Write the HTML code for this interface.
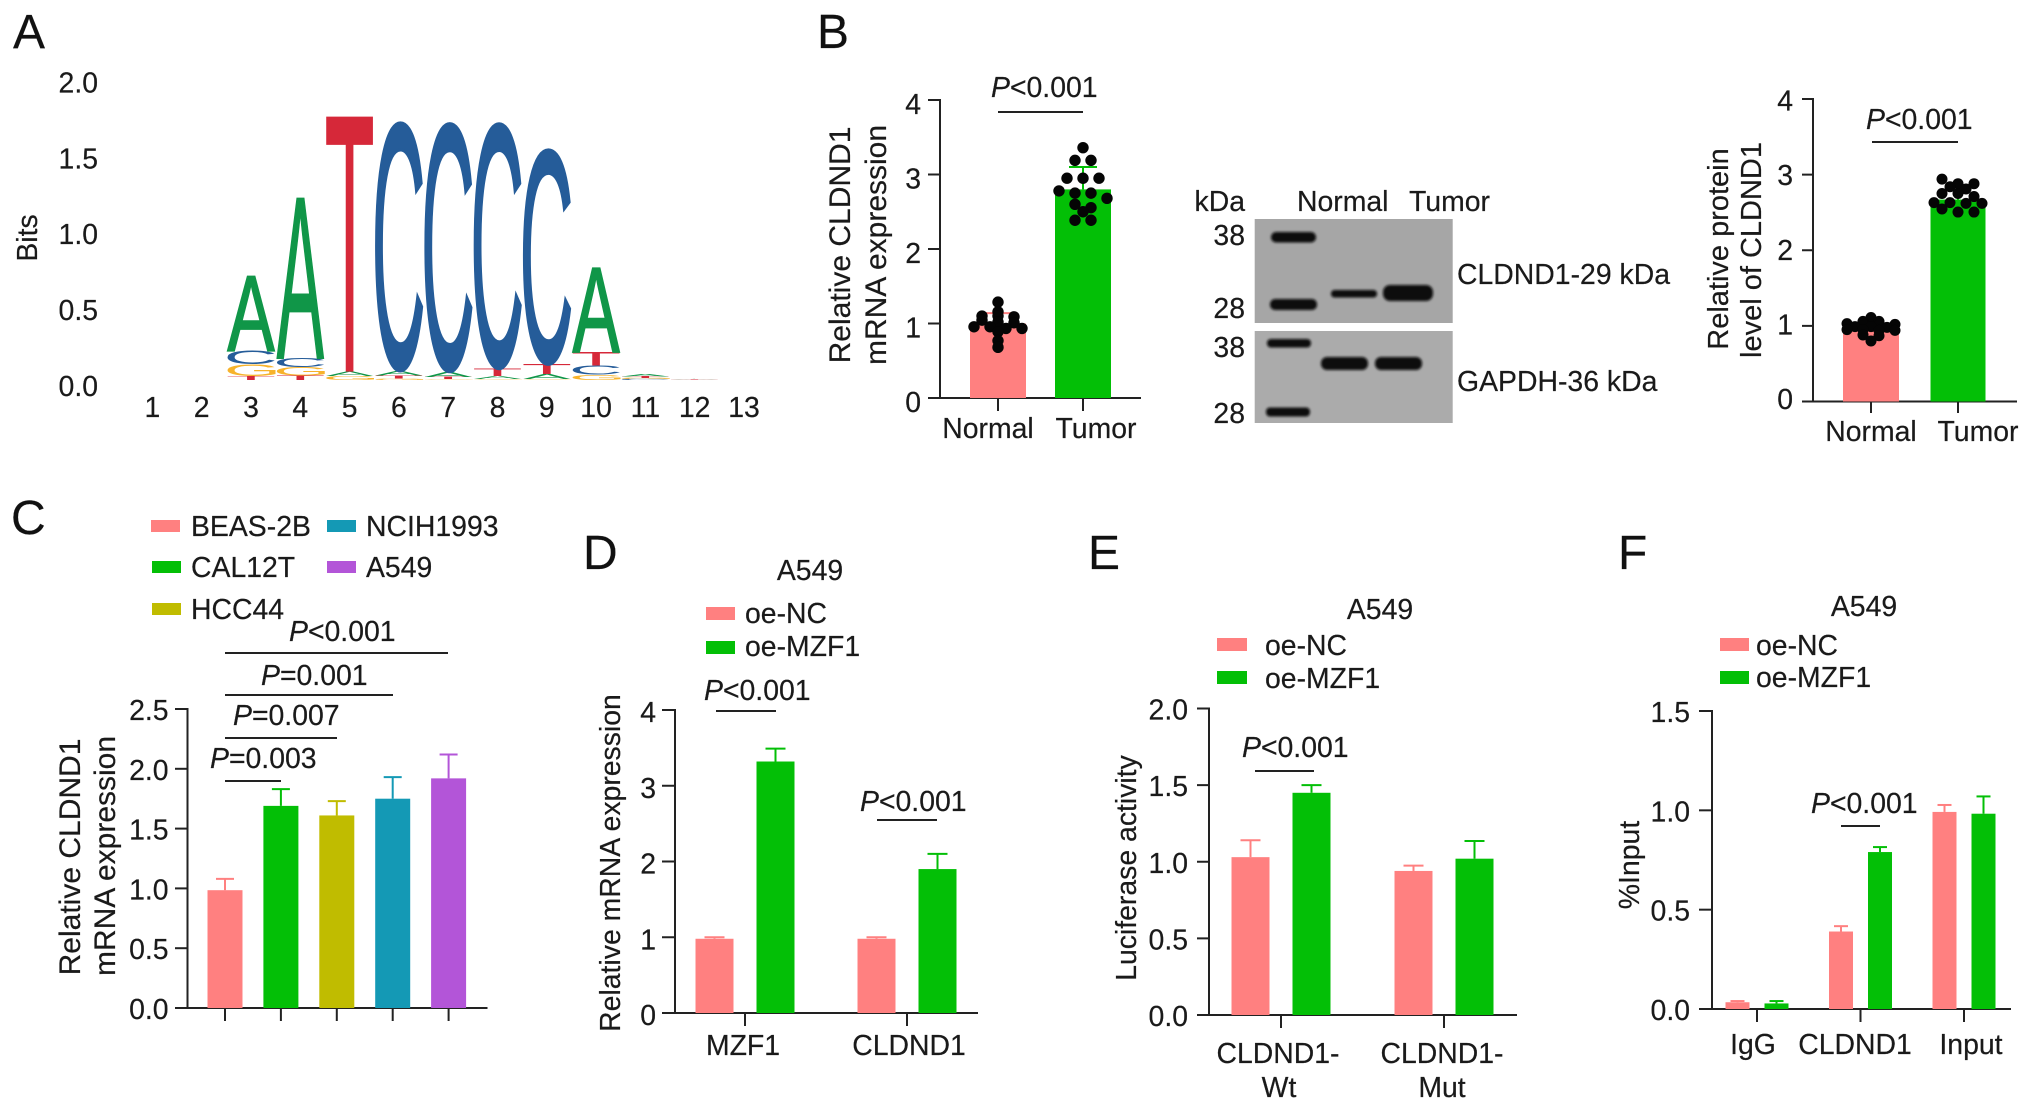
<!DOCTYPE html>
<html lang="en">
<head>
<meta charset="utf-8">
<title>CLDND1 multi-panel figure</title>
<style>
html,body{margin:0;padding:0;background:#fff;width:2032px;height:1111px;overflow:hidden}
svg{display:block;font-family:"Liberation Sans",Arial,sans-serif;fill:#1a1a1a}
text{font-size:28.4px;fill:#1a1a1a;stroke:#1a1a1a;stroke-width:.2px}
.panel{font-size:48px;fill:#111}
.mid{text-anchor:middle}
.end{text-anchor:end}
.t30{font-size:30px}
.t29{font-size:29px}
.i{font-style:italic}
.sig{stroke:#222;stroke-width:2}
.band{fill:#0a0a0a;filter:url(#bandBlur)}
</style>
</head>
<body>
<svg id="figure" xmlns="http://www.w3.org/2000/svg" width="2032" height="1111" viewBox="0 0 2032 1111">
<defs><filter id="bandBlur" x="-20%" y="-60%" width="140%" height="220%"><feGaussianBlur stdDeviation="1.3"/></filter></defs>
<rect width="2032" height="1111" fill="#fff"/>

<text class="panel" x="13" y="48">A</text>
<text class="panel" x="817" y="48">B</text>
<text class="panel" x="11" y="534">C</text>
<text class="panel" x="583" y="569">D</text>
<text class="panel" x="1088" y="569">E</text>
<text class="panel" x="1618" y="569">F</text>

<!-- Panel A -->
<g id="panelA">
<text class="mid" transform="translate(27,238) rotate(-90)" dy="10">Bits</text>
</g>

<!-- Panel B left -->
<g id="panelB1">
<text class="mid t30" transform="translate(839,245) rotate(-90)" dy="11">Relative CLDND1</text>
<text class="mid t30" transform="translate(877,245) rotate(-90)" dy="9">mRNA expression</text>
<text x="991" y="97"><tspan class="i">P</tspan>&lt;0.001</text>
<line class="sig" x1="998" x2="1083" y1="112" y2="112"/>
<text class="mid" x="988" y="438">Normal</text>
<text class="mid" x="1096" y="438">Tumor</text>
</g>

<!-- Western blot -->
<g>
<text class="end" x="1245" y="211">kDa</text>
<text x="1297" y="211">Normal</text>
<text x="1409" y="211">Tumor</text>
<text class="end" x="1245" y="245">38</text>
<text class="end" x="1245" y="318">28</text>
<text class="end" x="1245" y="357">38</text>
<text class="end" x="1245" y="423">28</text>
<rect x="1254.7" y="219" width="198" height="104" fill="#a6a6a6"/>
<rect x="1254.7" y="331" width="198" height="92" fill="#ababab"/>
<rect class="band" x="1271" y="232" width="45" height="10.5" rx="5"/>
<rect class="band" x="1270" y="299" width="47" height="11" rx="5"/>
<rect class="band" x="1331" y="290" width="46" height="7.5" rx="3.5"/>
<rect class="band" x="1383" y="285" width="50" height="16" rx="7"/>
<rect class="band" x="1267" y="339" width="44" height="8.5" rx="4"/>
<rect class="band" x="1321" y="357" width="47" height="13" rx="6"/>
<rect class="band" x="1375" y="357" width="47" height="13" rx="6"/>
<rect class="band" x="1266" y="407.5" width="44" height="9" rx="4"/>
<text x="1457" y="284">CLDND1-29 kDa</text>
<text x="1457" y="391">GAPDH-36 kDa</text>
</g>

<!-- Panel B right -->
<g id="panelB2">
<text class="mid t29" transform="translate(1718,249) rotate(-90)" dy="10">Relative protein</text>
<text class="mid t29" transform="translate(1753,250) rotate(-90)" dy="8">level of CLDND1</text>
<text x="1866" y="129"><tspan class="i">P</tspan>&lt;0.001</text>
<line class="sig" x1="1872" x2="1958" y1="142" y2="142"/>
<text class="mid" x="1871" y="441">Normal</text>
<text class="mid" x="1978" y="441">Tumor</text>
</g>

<!-- Panel C -->
<g id="panelC">
<rect x="151" y="520" width="29" height="12" fill="#ff8080"/>
<text x="191" y="536">BEAS-2B</text>
<rect x="152" y="561" width="29" height="12" fill="#03bf06"/>
<text x="191" y="577">CAL12T</text>
<rect x="152" y="603" width="29" height="12" fill="#c0bc00"/>
<text x="191" y="619">HCC44</text>
<rect x="327" y="520" width="29" height="12" fill="#1499b5"/>
<text x="366" y="536">NCIH1993</text>
<rect x="327" y="561" width="29" height="12" fill="#b355d8"/>
<text x="366" y="577">A549</text>
<text x="289" y="641"><tspan class="i">P</tspan>&lt;0.001</text>
<line class="sig" x1="225" x2="448" y1="653" y2="653"/>
<text x="261" y="685"><tspan class="i">P</tspan>=0.001</text>
<line class="sig" x1="225" x2="393" y1="695" y2="695"/>
<text x="233" y="725"><tspan class="i">P</tspan>=0.007</text>
<line class="sig" x1="225" x2="337" y1="738" y2="738"/>
<text x="210" y="768"><tspan class="i">P</tspan>=0.003</text>
<line class="sig" x1="225" x2="281" y1="781" y2="781"/>
<text class="mid t30" transform="translate(69,857) rotate(-90)" dy="11">Relative CLDND1</text>
<text class="mid t30" transform="translate(106,856) rotate(-90)" dy="9">mRNA expression</text>
</g>

<!-- Panel D -->
<g id="panelD">
<text class="mid" x="810" y="580">A549</text>
<rect x="706" y="607" width="29" height="13" fill="#ff8080"/>
<text x="745" y="623">oe-NC</text>
<rect x="706" y="641" width="29" height="13" fill="#03bf06"/>
<text x="745" y="656">oe-MZF1</text>
<text x="704" y="700"><tspan class="i">P</tspan>&lt;0.001</text>
<line class="sig" x1="716" x2="776" y1="711" y2="711"/>
<text x="860" y="811"><tspan class="i">P</tspan>&lt;0.001</text>
<line class="sig" x1="877" x2="937" y1="820" y2="820"/>
<text class="mid" transform="translate(611,863) rotate(-90)" dy="9">Relative mRNA expression</text>
<text class="mid" x="743" y="1055">MZF1</text>
<text class="mid" x="909" y="1055">CLDND1</text>
</g>

<!-- Panel E -->
<g id="panelE">
<text class="mid" x="1380" y="619">A549</text>
<rect x="1217" y="638" width="30" height="13" fill="#ff8080"/>
<text x="1265" y="655">oe-NC</text>
<rect x="1217" y="671" width="30" height="13" fill="#03bf06"/>
<text x="1265" y="688">oe-MZF1</text>
<text x="1242" y="757"><tspan class="i">P</tspan>&lt;0.001</text>
<line class="sig" x1="1255" x2="1314" y1="771" y2="771"/>
<text class="mid" transform="translate(1127,868) rotate(-90)" dy="9">Luciferase activity</text>
<text class="mid" x="1278" y="1063">CLDND1-</text>
<text class="mid" x="1279" y="1097">Wt</text>
<text class="mid" x="1442" y="1063">CLDND1-</text>
<text class="mid" x="1442" y="1097">Mut</text>
</g>

<!-- Panel F -->
<g id="panelF">
<text class="mid" x="1864" y="616">A549</text>
<rect x="1720" y="638" width="29" height="13" fill="#ff8080"/>
<text x="1756" y="655">oe-NC</text>
<rect x="1720" y="671" width="29" height="13" fill="#03bf06"/>
<text x="1756" y="687">oe-MZF1</text>
<text x="1811" y="813"><tspan class="i">P</tspan>&lt;0.001</text>
<line class="sig" x1="1841" x2="1880" y1="826" y2="826"/>
<text class="mid" transform="translate(1629,865) rotate(-90)" dy="10">%Input</text>
<text class="mid" x="1753" y="1054">IgG</text>
<text class="mid" x="1855" y="1054">CLDND1</text>
<text class="mid" x="1971" y="1054">Input</text>
</g>
</svg>

<script>
/* ---------- Panel A data: information content (bits) per position ---------- */
const logoPositions = [1,2,3,4,5,6,7,8,9,10,11,12,13];
const logoTicks = ['0.0','0.5','1.0','1.5','2.0'];
const bitsA = [0,0,0.486,1.05,0.03,0.03,0.035,0.02,0.033,0.55,0.015,0.002,0];
const bitsC = [0,0,0.09,0.06,0,1.632,1.632,1.611,1.41,0.06,0.006,0.001,0];
const bitsG = [0,0,0.077,0.055,0.025,0.01,0.005,0.005,0.005,0.035,0.006,0.001,0];
const bitsT = [0,0,0.026,0.03,1.68,0.02,0.015,0.05,0.066,0.09,0.012,0.002,0];

/* ---------- Panel B left ---------- */
const b1Ticks = ['0','1','2','3','4'];
const b1Means = [1.0,2.8];
const b1Errors = [0.14,0.3];
const b1NormalPoints = [1.287,1.157,1.10,1.10,1.09,1.045,1.02,1.01,0.956,0.956,0.934,0.934,0.889,0.77,0.68];
const b1TumorPoints = [3.36,3.19,3.19,2.95,2.95,2.95,2.78,2.75,2.75,2.68,2.6,2.555,2.5,2.386,2.386];

/* ---------- Panel B right ---------- */
const b2Ticks = ['0','1','2','3','4'];
const b2Means = [0.947,2.67];
const b2Errors = [0.1,0.18];
const b2NormalPoints = [1.11,1.06,1.06,1.03,1.03,1.02,1.02,0.99,0.99,0.98,0.95,0.95,0.94,0.94,0.88,0.87,0.8];
const b2TumorPoints = [2.94,2.88,2.88,2.84,2.81,2.75,2.75,2.71,2.63,2.63,2.62,2.62,2.545,2.505,2.505];

/* ---------- Panel C ---------- */
const cTicks = ['0.0','0.5','1.0','1.5','2.0','2.5'];
const cCellLines = ['beas-2b','cal12t','hcc44','ncih1993','a549'];
const cMeans = [0.985,1.69,1.61,1.75,1.92];
const cErrors = [0.095,0.14,0.12,0.18,0.2];

/* ---------- Panel D ---------- */
const dTicks = ['0','1','2','3','4'];
const dGroups = ['mzf1','cldnd1'];
const dNcMeans = [0.98,0.98];
const dNcErrors = [0.02,0.02];
const dMzfMeans = [3.32,1.9];
const dMzfErrors = [0.17,0.2];

/* ---------- Panel E ---------- */
const eTicks = ['0.0','0.5','1.0','1.5','2.0'];
const eGroups = ['wt','mut'];
const eNcMeans = [1.03,0.94];
const eNcErrors = [0.11,0.035];
const eMzfMeans = [1.45,1.02];
const eMzfErrors = [0.05,0.115];

/* ---------- Panel F ---------- */
const fTicks = ['0.0','0.5','1.0','1.5'];
const fGroups = ['igg','cldnd1','input'];
const fNcMeans = [0.034,0.39,0.992];
const fNcErrors = [0.006,0.027,0.035];
const fMzfMeans = [0.028,0.79,0.983];
const fMzfErrors = [0.012,0.025,0.087];

const NS = 'http://www.w3.org/2000/svg';
const PINK = '#ff8080', GREEN = '#03bf06';

function mk(tag, parent, attrs) {
  const el = document.createElementNS(NS, tag);
  for (const k in attrs) el.setAttribute(k, attrs[k]);
  parent.appendChild(el);
  return el;
}

function yScale(a) {
  return v => a.y0 - (v / a.max) * (a.y0 - a.yTop);
}

function drawAxes(g, a, tickLabels, xPositions) {
  const y = yScale(a);
  const yLine = mk('line', g, {x1:a.x, x2:a.x, y1:a.yTop - 1, y2:a.y0 + 1, stroke:'#222', 'stroke-width':2});
  
  
  const xLine = mk('line', g, {x1:a.tickLeft, x2:a.xEnd, y1:a.y0, y2:a.y0, stroke:'#222', 'stroke-width':2});
  
  
  tickLabels.forEach(label => {
    const v = parseFloat(label);
    const t = mk('line', g, {x1:a.tickLeft, x2:a.x, y1:y(v), y2:y(v), stroke:'#222', 'stroke-width':2});
    
    
    const tx = mk('text', g, {x:a.labelRight, y:y(v) + a.labelDy + (a.labelSlope || 0) * v, class:'end'});
    tx.textContent = label;
    
    
  });
  xPositions.forEach(px => {
    const t = mk('line', g, {x1:px, x2:px, y1:a.y0, y2:a.tickBottom, stroke:'#222', 'stroke-width':2});
    
    
  });
}

function drawBar(g, a, cx, w, mean, err, color, name, capHalf) {
  const y = yScale(a);
  const top = y(mean + err);
  const stem = mk('line', g, {x1:cx, x2:cx, y1:top, y2:y(mean), stroke:color, 'stroke-width':2});
  
  
  const cap = mk('line', g, {x1:cx - capHalf, x2:cx + capHalf, y1:top, y2:top, stroke:color, 'stroke-width':2});
  
  
  const bar = mk('rect', g, {x:cx - w / 2, y:y(mean), width:w, height:a.y0 - y(mean), fill:color});
  
  
}

/* Prism-like swarm: values closer than "band" share a row, spread symmetrically. */
function drawSwarm(g, a, cx, values, spacing, band, r, name) {
  const y = yScale(a);
  const sorted = values.slice().sort((p, q) => q - p);
  const rows = [];
  sorted.forEach(v => {
    const row = rows[rows.length - 1];
    if (row && row[0] - v <= band) row.push(v); else rows.push([v]);
  });
  rows.forEach(row => row.forEach((v, i) => {
    const dot = mk('circle', g, {cx:cx + (i - (row.length - 1) / 2) * spacing, cy:y(v), r:r, fill:'#050505'});
    
    
  }));
}

function groupedChart(id, a, ticks, groups, firstCenter, step, offset, barW, capHalf, ncM, ncE, mzM, mzE) {
  const g = document.getElementById(id);
  const centers = groups.map((_, i) => firstCenter + i * step);
  drawAxes(g, a, ticks, centers);
  groups.forEach((name, i) => {
    drawBar(g, a, centers[i] - offset, barW, ncM[i], ncE[i], PINK, 'bar-oe-nc-' + name, capHalf);
    drawBar(g, a, centers[i] + offset, barW, mzM[i], mzE[i], GREEN, 'bar-oe-mzf1-' + name, capHalf);
  });
}

/* ---------- Panel A: sequence logo, letters are real text stretched to their bit height ---------- */
(function () {
  const g = document.getElementById('panelA');
  const x = p => 251 + (p - 3) * 49.3;
  const bitY = b => 380 - 151.8 * b;
  const glyph = {
    A:{x0:0.0015, x1:0.6655, y0:0, y1:0.688, color:'#109648', thick:1.5},
    C:{x0:0.05, x1:0.68, y0:-0.01, y1:0.698, color:'#255c99', thick:2.5},
    G:{x0:0.05, x1:0.69, y0:-0.01, y1:0.698, color:'#f7b32b', thick:1},
    T:{x0:0.021, x1:0.59, y0:0, y1:0.688, color:'#d62839', thick:0}
  };
  logoTicks.forEach(label => {
    const t = mk('text', g, {x:98, y:bitY(parseFloat(label)) + 16, class:'end'});
    t.textContent = label;
    
    
  });
  logoPositions.forEach((p, i) => {
    const t = mk('text', g, {x:x(p), y:417, class:'mid'});
    t.textContent = String(p);
    
    
    const stack = [['A', bitsA[i]], ['C', bitsC[i]], ['G', bitsG[i]], ['T', bitsT[i]]]
      .filter(s => s[1] > 0)
      .sort((m, n) => m[1] - n[1]);
    let base = 0;
    stack.forEach(s => {
      const m = glyph[s[0]];
      const bottom = bitY(base);
      const top = bitY(base + s[1]);
      const w = s[0] === 'T' ? 47 : 47;
      const sx = w / ((m.x1 - m.x0) * 100);
      const sy = (bottom - top) / ((m.y1 - m.y0) * 100);
      const tx = x(p) - w / 2 - m.x0 * 100 * sx;
      const ty = bottom + m.y0 * 100 * sy;
      const el = mk('text', g, {transform:'translate(' + tx + ',' + ty + ') scale(' + sx + ',' + sy + ')'});
      el.textContent = s[0];
      el.style.fontSize = '100px';
      el.style.fill = m.color;
      el.style.stroke = 'none';
      if (s[1] > 0.3 && m.thick) {
        el.style.stroke = m.color;
        el.style.strokeWidth = m.thick + 'px';
        el.style.vectorEffect = 'non-scaling-stroke';
      }
      
      
      base += s[1];
    });
  });
})();

/* ---------- Panel B left ---------- */
(function () {
  const g = document.getElementById('panelB1');
  const a = {x:940, y0:398, yTop:100, max:4, tickLeft:928, xEnd:1141, tickBottom:411, labelRight:921, labelDy:14};
  const centers = [998, 1083];
  drawAxes(g, a, b1Ticks, centers);
  drawBar(g, a, centers[0], 56, b1Means[0], b1Errors[0], PINK, 'bar-normal', 14);
  drawBar(g, a, centers[1], 56, b1Means[1], b1Errors[1], GREEN, 'bar-tumor', 14);
  drawSwarm(g, a, centers[0], b1NormalPoints, 16, 0.05, 5.7, 'point-normal');
  drawSwarm(g, a, centers[1], b1TumorPoints, 16, 0.1, 5.7, 'point-tumor');
})();

/* ---------- Panel B right ---------- */
(function () {
  const g = document.getElementById('panelB2');
  const a = {x:1813, y0:401.5, yTop:99, max:4, tickLeft:1802, xEnd:2017, tickBottom:413, labelRight:1793, labelDy:7.5, labelSlope:1};
  const centers = [1871, 1958];
  drawAxes(g, a, b2Ticks, centers);
  drawBar(g, a, centers[0], 56, b2Means[0], b2Errors[0], PINK, 'bar-normal', 12);
  drawBar(g, a, centers[1], 55, b2Means[1], b2Errors[1], GREEN, 'bar-tumor', 12);
  drawSwarm(g, a, centers[0], b2NormalPoints, 16, 0.025, 5.5, 'point-normal');
  drawSwarm(g, a, centers[1], b2TumorPoints, 16, 0.08, 5.5, 'point-tumor');
})();

/* ---------- Panel C ---------- */
(function () {
  const g = document.getElementById('panelC');
  const a = {x:187.5, y0:1008, yTop:709, max:2.5, tickLeft:175, xEnd:487.5, tickBottom:1021, labelRight:168.6, labelDy:11};
  const colors = [PINK, GREEN, '#c0bc00', '#1499b5', '#b355d8'];
  const centers = cCellLines.map((_, i) => 225 + i * 55.9);
  drawAxes(g, a, cTicks, centers);
  cCellLines.forEach((name, i) => {
    drawBar(g, a, centers[i], 35, cMeans[i], cErrors[i], colors[i], 'bar-' + name, 9);
  });
})();

/* ---------- Panels D, E, F ---------- */
groupedChart('panelD',
  {x:675, y0:1013, yTop:710, max:4, tickLeft:662, xEnd:978, tickBottom:1026, labelRight:656, labelDy:12},
  dTicks, dGroups, 745, 162, 30.5, 38, 10, dNcMeans, dNcErrors, dMzfMeans, dMzfErrors);
groupedChart('panelE',
  {x:1209, y0:1015, yTop:708.5, max:2, tickLeft:1197, xEnd:1517, tickBottom:1028, labelRight:1188, labelDy:11},
  eTicks, eGroups, 1281, 163, 30.5, 38, 10, eNcMeans, eNcErrors, eMzfMeans, eMzfErrors);
groupedChart('panelF',
  {x:1712, y0:1009, yTop:711, max:1.5, tickLeft:1699, xEnd:2011, tickBottom:1022, labelRight:1690, labelDy:11},
  fTicks, fGroups, 1757, 103.5, 19.5, 24, 7, fNcMeans, fNcErrors, fMzfMeans, fMzfErrors);
</script>
</body>
</html>
